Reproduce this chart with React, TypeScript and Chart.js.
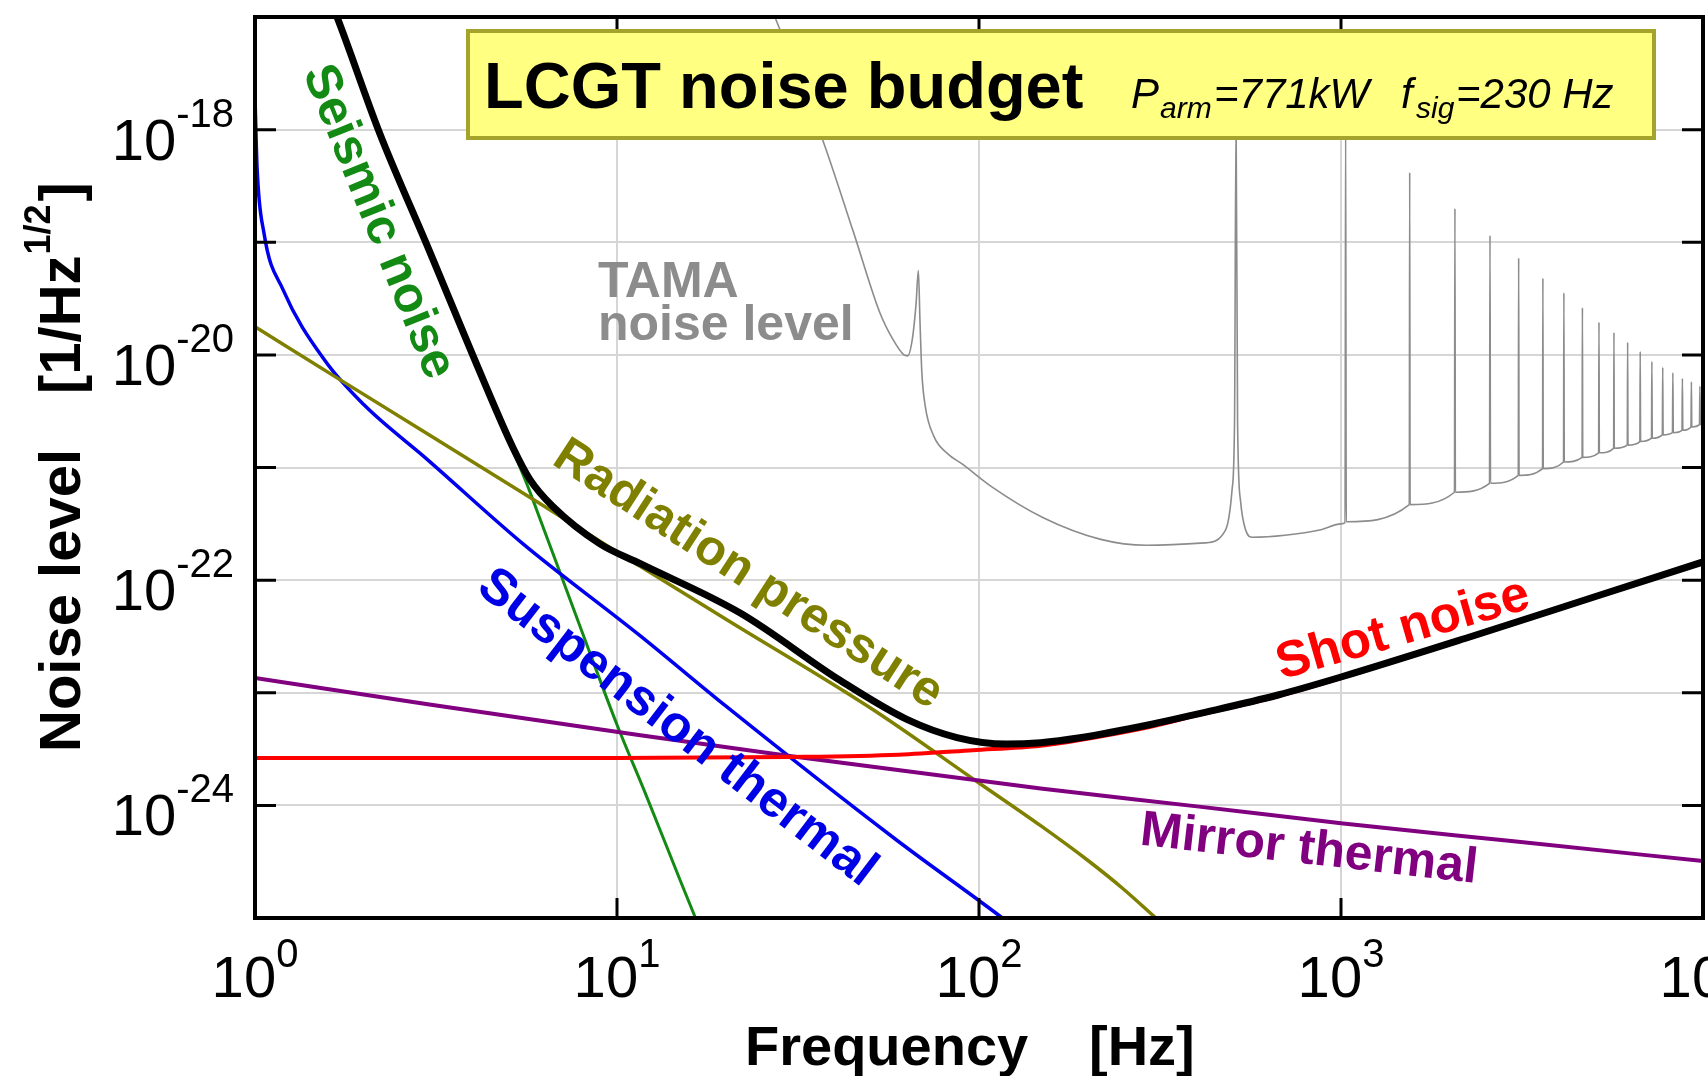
import React, { useEffect, useRef } from "react";
import { Chart, registerables } from "chart.js";

Chart.register(...registerables);

// ---------- axis ranges / ticks ----------
const xMin = 1;
const xMax = 1e4;
const yMin = 1e-25;
const yMax = 1e-17;
const xDecades = [1, 10, 100, 1000, 10000];
const yDecades = [1e-25, 1e-24, 1e-23, 1e-22, 1e-21, 1e-20, 1e-19, 1e-18, 1e-17];
const xLabelExp = ["0", "1", "2", "3", "4"];
const yLabelExp = ["-18", "-20", "-22", "-24"];

// ---------- series (frequency in Hz, level in 1/Hz^1/2) ----------
const totalFreq = [1.6, 1.685, 2.21, 3, 4.27, 5.16, 5.75, 6.65, 8.97, 11.6, 21.9, 41.3, 63.2, 86.9, 119, 148, 190, 300, 400, 670, 1000, 2290, 5000, 10000];
const totalLevel = [1.5e-17, 1e-17, 9.3e-19, 9.1e-20, 6.0e-21, 1.5e-21, 7.8e-22, 4.5e-22, 2.1e-22, 1.4e-22, 5.1e-23, 1.29e-23, 5.8e-24, 4.0e-24, 3.5e-24, 3.6e-24, 3.98e-24, 5.25e-24, 6.46e-24, 9.55e-24, 1.38e-23, 3.16e-23, 7.08e-23, 1.45e-22];

const shotFreq = [1, 10, 30, 60, 96, 148, 190, 300, 400, 670, 1000, 2290, 5000, 10000];
const shotLevel = [2.63e-24, 2.63e-24, 2.69e-24, 2.82e-24, 3.09e-24, 3.39e-24, 3.8e-24, 5.0e-24, 6.3e-24, 9.3e-24, 1.35e-23, 3.1e-23, 7.0e-23, 1.43e-22];

const mirrorFreq = [1, 3, 11.6, 30, 148, 400, 1014, 3000, 10000];
const mirrorLevel = [1.35e-23, 7.9e-24, 4.2e-24, 2.75e-24, 1.41e-24, 9.8e-25, 6.9e-25, 4.8e-25, 3.2e-25];

const radFreq = [1, 1.72, 6.12, 10, 20, 50.9, 100, 148, 200, 250, 308, 350];
const radLevel = [1.78e-20, 6.0e-21, 4.8e-22, 1.78e-22, 4.5e-23, 7.1e-24, 1.58e-24, 6.6e-25, 3.24e-25, 1.82e-25, 1e-25, 7e-26];

const suspFreq = [1, 1.013, 1.059, 1.195, 1.56, 2, 3, 5.5, 11.6, 20, 59.3, 116, 130];
const suspLevel = [1.95e-18, 4.7e-19, 1.2e-19, 3.8e-20, 8.9e-21, 3.6e-21, 1.17e-21, 2.1e-22, 3.2e-23, 7.6e-24, 4.9e-25, 1e-25, 7.5e-26];

const seisFreq = [1.6, 1.685, 2.21, 3, 4.27, 5.16, 5.64, 6, 8, 10, 12, 15, 17];
const seisLevel = [1.5e-17, 1e-17, 9.3e-19, 9.1e-20, 6.0e-21, 1.41e-21, 7.1e-22, 4.2e-22, 3.5e-23, 5.2e-24, 1.26e-24, 2.1e-25, 7.8e-26];

const tamaFreq = [
  25, 27.3, 37, 45, 53.3, 58, 62, 63.5, 65.5, 67, 68, 68.7, 69.5, 71, 75, 82, 90, 108, 150, 217, 290, 420,
  480, 500, 508, 513, 518, 528, 545, 570, 700, 880, 1000,
  1026, 1030, 1034, 1544, 1548, 1552, 2058, 2064, 2070, 2572, 2580, 2588, 3088, 3096, 3104,
  3604, 3612, 3620, 4118, 4128, 4138, 4634, 4644, 4654, 5148, 5160, 5172, 5664, 5676, 5688,
  6178, 6192, 6206, 6692, 6708, 6724, 7206, 7224, 7242, 7720, 7740, 7760, 8234, 8256, 8278,
  8748, 8772, 8796, 9264, 9288, 9312, 9778, 9804, 9830, 10000,
];
const tamaLevel = [
  2.0e-17, 1.0e-17, 8.1e-19, 1.23e-19, 2.34e-20, 1.35e-20, 1.0e-20, 9.8e-21, 1.41e-20, 2.82e-20, 5.62e-20, 2.0e-20, 7.1e-21, 3.55e-21, 1.9e-21, 1.32e-21, 1.07e-21, 6.8e-22, 3.6e-22, 2.3e-22, 2.04e-22, 2.14e-22,
  2.8e-22, 6.3e-22, 2.5e-21, 1.26e-18, 2.5e-21, 5.0e-22, 2.8e-22, 2.4e-22, 2.5e-22, 2.8e-22, 3.16e-22,
  3.24e-22, 1.26e-18, 3.3e-22, 4.68e-22, 4.17e-19, 4.68e-22, 6.03e-22, 2.0e-19, 6.03e-22, 7.24e-22, 1.15e-19, 7.24e-22, 8.51e-22, 7.24e-20, 8.51e-22,
  9.77e-22, 4.79e-20, 9.77e-22, 1.12e-21, 3.55e-20, 1.12e-21, 1.23e-21, 2.63e-20, 1.23e-21, 1.35e-21, 1.95e-20, 1.35e-21, 1.48e-21, 1.58e-20, 1.48e-21,
  1.58e-21, 1.29e-20, 1.58e-21, 1.7e-21, 1.07e-20, 1.7e-21, 1.82e-21, 8.71e-21, 1.82e-21, 1.95e-21, 7.76e-21, 1.95e-21, 2.04e-21, 6.92e-21, 2.04e-21,
  2.14e-21, 6.17e-21, 2.14e-21, 2.29e-21, 5.75e-21, 2.29e-21, 2.4e-21, 5.25e-21, 2.4e-21, 2.43e-21,
];

// ---------- texts ----------
const titleMain = "LCGT noise budget";
const xTitle = "Frequency";
const xUnit = "[Hz]";
const yTitle = "Noise level";
const FONT = '"Liberation Sans", Arial, Helvetica, sans-serif';

const pts = (f: number[], v: number[]) => f.map((x, i) => ({ x, y: v[i] }));

function line(label: string, f: number[], v: number[], color: string, width: number) {
  return {
    label,
    data: pts(f, v),
    borderColor: color,
    backgroundColor: color,
    borderWidth: width,
    pointRadius: 0,
    fill: false,
    cubicInterpolationMode: "monotone" as const,
  };
}

function rotText(ctx: CanvasRenderingContext2D, text: string, cx: number, cy: number, deg: number, color: string, size: number) {
  ctx.save();
  ctx.translate(cx, cy);
  ctx.rotate((deg * Math.PI) / 180);
  ctx.font = `bold ${size}px ${FONT}`;
  ctx.fillStyle = color;
  ctx.textAlign = "center";
  ctx.textBaseline = "middle";
  ctx.fillText(text, 0, 0);
  ctx.restore();
}

const decorPlugin = {
  id: "decor",
  afterDatasetsDraw(chart: any) {
    const ctx: CanvasRenderingContext2D = chart.ctx;
    const a = chart.chartArea;
    const xs = chart.scales.x;
    const ys = chart.scales.y;
    ctx.save();

    // inward ticks
    ctx.strokeStyle = "#000";
    ctx.lineWidth = 3;
    ctx.beginPath();
    xDecades.slice(1, -1).forEach((v) => {
      const px = xs.getPixelForValue(v);
      ctx.moveTo(px, a.bottom);
      ctx.lineTo(px, a.bottom - 20);
      ctx.moveTo(px, a.top);
      ctx.lineTo(px, a.top + 17);
    });
    yDecades.slice(1, -1).forEach((v) => {
      const py = ys.getPixelForValue(v);
      ctx.moveTo(a.left, py);
      ctx.lineTo(a.left + 21, py);
      ctx.moveTo(a.right, py);
      ctx.lineTo(a.right - 21, py);
    });
    ctx.stroke();

    // frame
    ctx.lineWidth = 4;
    ctx.strokeRect(a.left, a.top, a.right - a.left, a.bottom - a.top);

    // tick labels
    ctx.fillStyle = "#000";
    ctx.textAlign = "left";
    ctx.textBaseline = "alphabetic";
    const baseFont = `58px ${FONT}`;
    const expFont = `40px ${FONT}`;
    xLabelExp.forEach((e, i) => {
      const px = xs.getPixelForValue(xDecades[i]);
      ctx.font = baseFont;
      const wb = ctx.measureText("10").width;
      ctx.font = expFont;
      const we = ctx.measureText(e).width;
      const x0 = px - (wb + we) / 2;
      ctx.font = baseFont;
      ctx.fillText("10", x0, a.bottom + 79);
      ctx.font = expFont;
      ctx.fillText(e, x0 + wb, a.bottom + 49);
    });
    yLabelExp.forEach((e) => {
      const py = ys.getPixelForValue(Math.pow(10, Number(e)));
      ctx.font = baseFont;
      const wb = ctx.measureText("10").width;
      ctx.font = expFont;
      const we = ctx.measureText(e).width;
      const x0 = a.left - 21 - (wb + we);
      ctx.font = baseFont;
      ctx.fillText("10", x0, py + 30);
      ctx.font = expFont;
      ctx.fillText(e, x0 + wb, py - 3);
    });

    // axis titles
    ctx.font = `bold 56px ${FONT}`;
    ctx.fillText(xTitle, 745, 1065);
    ctx.fillText(xUnit, 1089, 1065);

    ctx.save();
    ctx.translate(80, 752);
    ctx.rotate(-Math.PI / 2);
    ctx.font = `bold 58px ${FONT}`;
    ctx.fillText(yTitle, 0, 0);
    const ux = 358;
    ctx.fillText("[1/Hz", ux, 0);
    const w1 = ctx.measureText("[1/Hz").width;
    ctx.font = `bold 36px ${FONT}`;
    ctx.fillText("1/2", ux + w1 + 1, -30);
    const w2 = ctx.measureText("1/2").width;
    ctx.font = `bold 58px ${FONT}`;
    ctx.fillText("]", ux + w1 + w2 + 4, 0);
    ctx.restore();

    // title box
    ctx.fillStyle = "#ffff82";
    ctx.fillRect(468, 31, 1186, 107);
    ctx.strokeStyle = "#a4a42c";
    ctx.lineWidth = 4;
    ctx.strokeRect(468, 31, 1186, 107);
    ctx.fillStyle = "#000";
    ctx.font = `bold 65px ${FONT}`;
    ctx.fillText(titleMain, 484, 108);
    ctx.font = `italic 42px ${FONT}`;
    ctx.fillText("P", 1131, 108);
    ctx.fillText("=771kW", 1214, 108);
    ctx.fillText("f", 1401, 108);
    ctx.fillText("=230 Hz", 1456, 108);
    ctx.font = `italic 30px ${FONT}`;
    ctx.fillText("arm", 1160, 118);
    ctx.fillText("sig", 1416, 118);

    // TAMA label
    ctx.fillStyle = "#8c8c8c";
    ctx.font = `bold 50px ${FONT}`;
    ctx.fillText("TAMA", 598, 297);
    ctx.fillText("noise level", 598, 340);

    // curve labels
    rotText(ctx, "Seismic noise", 378, 222, 68, "#138a13", 50);
    rotText(ctx, "Radiation pressure", 748, 575, 33, "#808000", 50);
    rotText(ctx, "Suspension thermal", 677, 728, 37.5, "#0000e6", 51);
    rotText(ctx, "Shot noise", 1403, 630, -16, "#ff0000", 51);
    rotText(ctx, "Mirror thermal", 1309, 850, 6.5, "#800080", 50);

    ctx.restore();
  },
};

export default function App() {
  const ref = useRef<HTMLCanvasElement>(null);
  useEffect(() => {
    if (!ref.current) return;
    const chart = new Chart(ref.current, {
      type: "line",
      data: {
        datasets: [
          line("Total", totalFreq, totalLevel, "#000000", 7),
          line("Shot noise", shotFreq, shotLevel, "#ff0000", 4),
          line("Mirror thermal", mirrorFreq, mirrorLevel, "#800080", 4),
          line("Radiation pressure", radFreq, radLevel, "#808000", 3.5),
          line("Suspension thermal", suspFreq, suspLevel, "#0000ee", 3.5),
          line("Seismic noise", seisFreq, seisLevel, "#138a13", 3),
          line("TAMA noise level", tamaFreq, tamaLevel, "#8c8c8c", 1.6),
        ] as any,
      },
      options: {
        animation: false,
        responsive: false,
        events: [],
        layout: { padding: { top: 17, right: 5, left: 0, bottom: 0 } },
        plugins: {
          legend: { display: false },
          tooltip: { enabled: false },
          title: { display: false },
        },
        scales: {
          x: {
            type: "logarithmic",
            min: xMin,
            max: xMax,
            afterBuildTicks: (s: any) => {
              s.ticks = xDecades.map((v) => ({ value: v }));
            },
            afterFit: (s: any) => {
              s.height = 158;
            },
            ticks: { display: false },
            grid: { color: "#d6d6d6", lineWidth: 2, drawTicks: false },
            border: { display: false },
          },
          y: {
            type: "logarithmic",
            min: yMin,
            max: yMax,
            afterBuildTicks: (s: any) => {
              s.ticks = yDecades.map((v) => ({ value: v }));
            },
            afterFit: (s: any) => {
              s.width = 255;
            },
            ticks: { display: false },
            grid: { color: "#d6d6d6", lineWidth: 2, drawTicks: false },
            border: { display: false },
          },
        },
      } as any,
      plugins: [decorPlugin],
    });
    return () => chart.destroy();
  }, []);
  return (
    <div style={{ position: "fixed", left: 0, top: 0, width: 1708, height: 1076, background: "#fff" }}>
      <canvas ref={ref} width={1708} height={1076} style={{ display: "block", width: 1708, height: 1076 }} />
    </div>
  );
}
